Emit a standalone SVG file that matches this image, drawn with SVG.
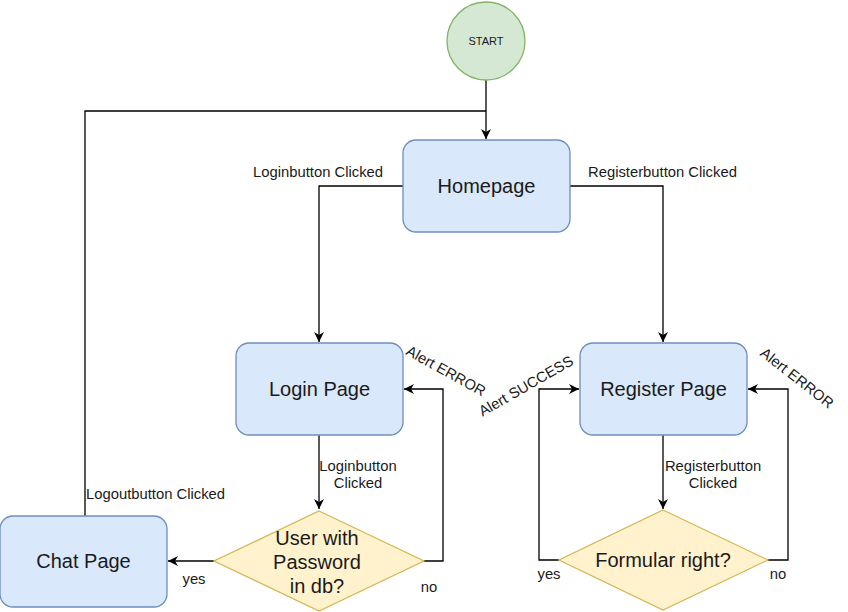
<svg xmlns="http://www.w3.org/2000/svg" width="848" height="612" viewBox="0 0 848 612">
<style>
.blue{fill:#dae8fc;stroke:#6c8ebf;stroke-width:1.3}
.yel{fill:#fff2cc;stroke:#d6b656;stroke-width:1.3}
.grn{fill:#d5e8d4;stroke:#82b366;stroke-width:1.3}
.nt{font-family:"Liberation Sans",Arial,sans-serif;font-size:20px;fill:#1a1a1a;text-anchor:middle}
.et{font-family:"Liberation Sans",Arial,sans-serif;font-size:14.8px;fill:#1a1a1a}
.edge{fill:none;stroke:#000;stroke-width:1.3}
</style>
<defs>
<marker id="arr" markerWidth="12" markerHeight="10" refX="10" refY="5" orient="auto" markerUnits="userSpaceOnUse">
<path d="M0,0 L10,5 L0,10 L3,5 Z" fill="#000"/>
</marker>
</defs>
<rect width="848" height="612" fill="#fff"/>
<g id="connectors">
<path class="edge" d="M486,80 L486,139" marker-end="url(#arr)"/>
<path class="edge" d="M85,516 L85,111 L486,111"/>
<path class="edge" d="M403,186 L319,186 L319,342" marker-end="url(#arr)"/>
<path class="edge" d="M570,186 L663,186 L663,342" marker-end="url(#arr)"/>
<path class="edge" d="M319,435 L319,509" marker-end="url(#arr)"/>
<path class="edge" d="M424,561 L443,561 L443,389 L404,389" marker-end="url(#arr)"/>
<path class="edge" d="M214,561 L168,561" marker-end="url(#arr)"/>
<path class="edge" d="M663,435 L663,509" marker-end="url(#arr)"/>
<path class="edge" d="M559,560 L539,560 L539,389 L579,389" marker-end="url(#arr)"/>
<path class="edge" d="M768,560 L788,560 L788,389 L748,389" marker-end="url(#arr)"/>
<text class="et" x="383" y="177" text-anchor="end">Loginbutton Clicked</text>
<text class="et" x="588" y="177">Registerbutton Clicked</text>
<text class="et" x="86" y="499">Logoutbutton Clicked</text>
<text class="et" x="358" y="471" text-anchor="middle">Loginbutton</text>
<text class="et" x="358" y="488" text-anchor="middle">Clicked</text>
<text class="et" x="713" y="471" text-anchor="middle">Registerbutton</text>
<text class="et" x="713" y="488" text-anchor="middle">Clicked</text>
<text class="et" x="194" y="584" text-anchor="middle">yes</text>
<text class="et" x="429" y="592" text-anchor="middle">no</text>
<text class="et" x="549" y="579" text-anchor="middle">yes</text>
<text class="et" x="778" y="579" text-anchor="middle">no</text>
<text class="et" text-anchor="middle" transform="translate(446,371) rotate(29)" y="5">Alert ERROR</text>
<text class="et" text-anchor="middle" transform="translate(526,386) rotate(-30)" y="5">Alert SUCCESS</text>
<text class="et" text-anchor="middle" transform="translate(797,378) rotate(38)" y="5">Alert ERROR</text>
</g>
<g id="start">
<circle class="grn" cx="486" cy="41" r="39"/>
<text class="nt" x="486" y="45" style="font-size:11px">START</text>
</g>
<g id="homepage">
<rect class="blue" x="403" y="140" width="167" height="92" rx="13"/>
<text class="nt" x="486.5" y="193">Homepage</text>
</g>
<g id="login">
<rect class="blue" x="236" y="343" width="167" height="92" rx="13"/>
<text class="nt" x="319.5" y="396">Login Page</text>
</g>
<g id="register">
<rect class="blue" x="580" y="343" width="167" height="92" rx="13"/>
<text class="nt" x="663.5" y="396">Register Page</text>
</g>
<g id="chat">
<rect class="blue" x="0" y="516" width="167" height="91" rx="13"/>
<text class="nt" x="83.5" y="568">Chat Page</text>
</g>
<g id="check-user">
<path class="yel" d="M319,511 L424,561 L319,611 L214,561 Z"/>
<text class="nt" x="317" y="545">User with</text>
<text class="nt" x="317" y="569">Password</text>
<text class="nt" x="317" y="593">in db?</text>
</g>
<g id="check-form">
<path class="yel" d="M663,510 L768,560 L663,610 L559,560 Z"/>
<text class="nt" x="663" y="567">Formular right?</text>
</g>
</svg>
